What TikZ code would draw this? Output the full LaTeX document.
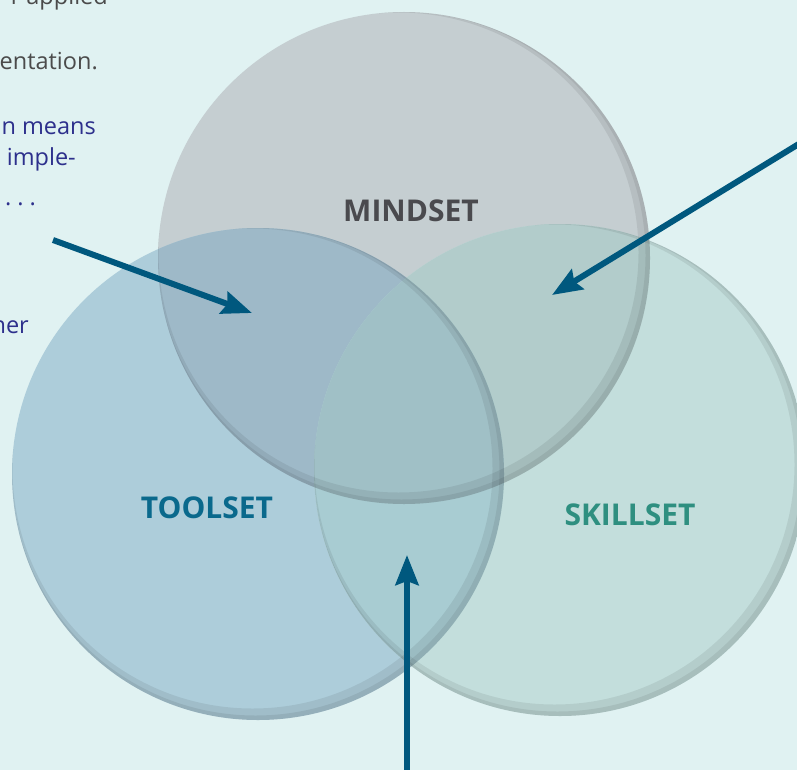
\documentclass[tikz,border=0pt]{standalone}
\usepackage{fontspec}
\setmainfont{Open Sans}
\usetikzlibrary{arrows.meta,calc}
\definecolor{bgc}{HTML}{E0F2F2}
\definecolor{cmind}{HTML}{C5CED1}
\definecolor{ctool}{HTML}{ADCDDA}
\definecolor{cskill}{HTML}{C3DEDC}
\definecolor{cmt}{HTML}{9EB9C8}
\definecolor{cms}{HTML}{B2CCCB}
\definecolor{cts}{HTML}{A8CCD2}
\definecolor{cmts}{HTML}{A0C0C6}
\definecolor{tgray}{HTML}{4B4B4B}
\definecolor{tblue}{HTML}{2D308C}
\definecolor{lmind}{HTML}{4A4A4E}
\definecolor{ltool}{HTML}{0A698C}
\definecolor{lskill}{HTML}{2E8F80}
\definecolor{arr}{HTML}{00587E}
\tikzset{
  setcircle/.style={circle, minimum size=492pt, inner sep=0pt},
  setlabel/.style={font=\bfseries\fontsize{30}{35}\selectfont, inner sep=0pt},
  bodytext/.style={font=\fontsize{23.5}{28}\selectfont, inner sep=0pt, anchor=base east},
  pointer/.style={draw=arr, line width=6pt, -{Stealth[length=30pt, width=23pt, inset=4pt]}},
}
\newcommand{\rimset}[1]{%
  \begin{scope}
    \clip (#1) circle (246pt);
    \fill[black, fill opacity=0.075, even odd rule] ([shift={(-300,-300)}]#1) rectangle ([shift={(300,300)}]#1) ([shift={(-5.5,-5.5)}]#1) circle (240pt);
    \fill[black, fill opacity=0.07, even odd rule] ([shift={(-300,-300)}]#1) rectangle ([shift={(300,300)}]#1) ([shift={(-2.5,-2.5)}]#1) circle (244pt);
  \end{scope}
}
\begin{document}
\begin{tikzpicture}[x=1pt, y=-1pt]
\useasboundingbox (0,0) rectangle (797,770);
\clip (0,0) rectangle (797,770);
\fill[bgc] (0,0) rectangle (797,770);
% circles
\node[setcircle] (mind) at (404,258) {};
\node[setcircle] (tool) at (258,474) {};
\node[setcircle] (skill) at (560,470) {};
\fill[cmind] (mind.center) circle (246pt);
\fill[ctool] (tool.center) circle (246pt);
\fill[cskill] (skill.center) circle (246pt);
\begin{scope}
  \clip (mind.center) circle (246pt);
  \fill[cmt] (tool.center) circle (246pt);
  \fill[cms] (skill.center) circle (246pt);
\end{scope}
\begin{scope}
  \clip (tool.center) circle (246pt);
  \fill[cts] (skill.center) circle (246pt);
  \clip (skill.center) circle (246pt);
  \fill[cmts] (mind.center) circle (246pt);
\end{scope}
\rimset{mind.center}
\rimset{tool.center}
\rimset{skill.center}
% labels
\node[setlabel, text=lmind] (lm) at (411,211) {MINDSET};
\node[setlabel, text=ltool] (lt) at (207,508) {TOOLSET};
\node[setlabel, text=lskill] (ls) at (630,515) {SKILLSET};
% side text
\node[bodytext, text=tgray] (t1) at (108,5) {r applied};
\node[bodytext, text=tgray] (t2) at (98,70) {entation.};
\node[bodytext, text=tblue] (t3) at (96,135) {n means};
\node[bodytext, text=tblue] (t4) at (76,166) {imple-};
\node[bodytext, text=tblue] (t5) at (36,205) {.\hspace{6pt}.\hspace{6pt}.};
\node[bodytext, text=tblue] (t6) at (29,333) {ner};
% arrows
\coordinate (a1s) at (53,240);
\coordinate (a1e) at (252,313);
\coordinate (a2s) at (820,131);
\coordinate (a2e) at (552,295);
\coordinate (a3s) at (407,780);
\coordinate (a3e) at (407,555);
\draw[pointer] (a1s) -- (a1e);
\draw[pointer] (a2s) -- (a2e);
\draw[pointer] (a3s) -- (a3e);
\end{tikzpicture}
\end{document}
